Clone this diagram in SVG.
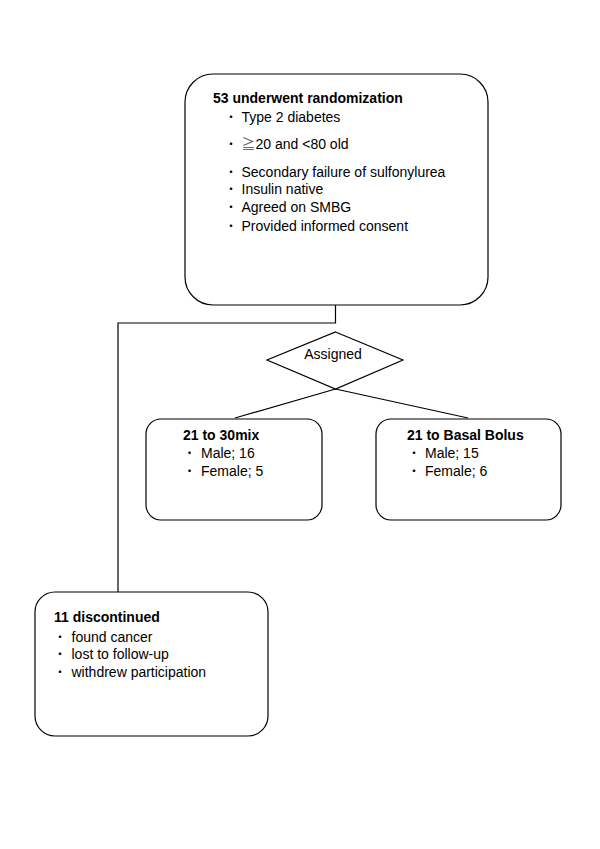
<svg xmlns="http://www.w3.org/2000/svg" width="600" height="849" viewBox="0 0 600 849">
<style>
.box{fill:#fff;stroke:#000;stroke-width:1.2}
.ln{fill:none;stroke:#000;stroke-width:1.2}
text{font-family:"Liberation Sans",Arial,"Noto Sans CJK JP",sans-serif;font-size:14px;fill:#000}
.t{font-weight:bold;font-size:14px}
.b{font-family:"Noto Sans CJK JP","Liberation Sans",sans-serif;font-size:12px}
</style>
<rect width="600" height="849" fill="#fff"/>
<g id="connectors">
<path class="ln" d="M335.5,305 V323 H118 V592"/>
<path class="ln" d="M335.5,389 L235,418 M335.5,389 L468,418"/>
</g>
<g id="randomization">
<rect class="box" x="185" y="74" width="303" height="231" rx="28" ry="28"/>
<text class="t" x="213" y="103">53 underwent randomization</text>
<text><tspan class="b" x="225" y="122">・</tspan><tspan x="241.5" y="122">Type 2 diabetes</tspan></text>
<text><tspan class="b" x="225" y="149">・</tspan><tspan x="241.5" y="149" font-family="Noto Sans CJK JP" fill="#666">≧</tspan><tspan>20 and &lt;80 old</tspan></text>
<text><tspan class="b" x="225" y="177">・</tspan><tspan x="241.5" y="177">Secondary failure of sulfonylurea</tspan></text>
<text><tspan class="b" x="225" y="194">・</tspan><tspan x="241.5" y="194">Insulin native</tspan></text>
<text><tspan class="b" x="225" y="212">・</tspan><tspan x="241.5" y="212">Agreed on SMBG</tspan></text>
<text><tspan class="b" x="225" y="231">・</tspan><tspan x="241.5" y="231">Provided informed consent</tspan></text>
</g>
<g id="assigned">
<polygon class="box" points="335.5,332 403,360 335.5,389 267,360"/>
<text x="333" y="359" text-anchor="middle">Assigned</text>
</g>
<g id="mix30">
<rect class="box" x="146" y="419" width="176" height="101" rx="15" ry="15"/>
<text class="t" x="183" y="440">21 to 30mix</text>
<text><tspan class="b" x="183.5" y="458">・</tspan><tspan x="201" y="458">Male; 16</tspan></text>
<text><tspan class="b" x="183.5" y="476">・</tspan><tspan x="201" y="476">Female; 5</tspan></text>
</g>
<g id="basalbolus">
<rect class="box" x="376" y="419" width="185" height="101" rx="15" ry="15"/>
<text class="t" x="407" y="440">21 to Basal Bolus</text>
<text><tspan class="b" x="408" y="458">・</tspan><tspan x="425" y="458">Male; 15</tspan></text>
<text><tspan class="b" x="408" y="476">・</tspan><tspan x="425" y="476">Female; 6</tspan></text>
</g>
<g id="discontinued">
<rect class="box" x="35" y="592" width="233" height="144" rx="20" ry="20"/>
<text class="t" x="54" y="622">11 discontinued</text>
<text><tspan class="b" x="54" y="642">・</tspan><tspan x="71.5" y="642">found cancer</tspan></text>
<text><tspan class="b" x="54" y="659">・</tspan><tspan x="71.5" y="659">lost to follow-up</tspan></text>
<text><tspan class="b" x="54" y="677">・</tspan><tspan x="71.5" y="677">withdrew participation</tspan></text>
</g>
</svg>
